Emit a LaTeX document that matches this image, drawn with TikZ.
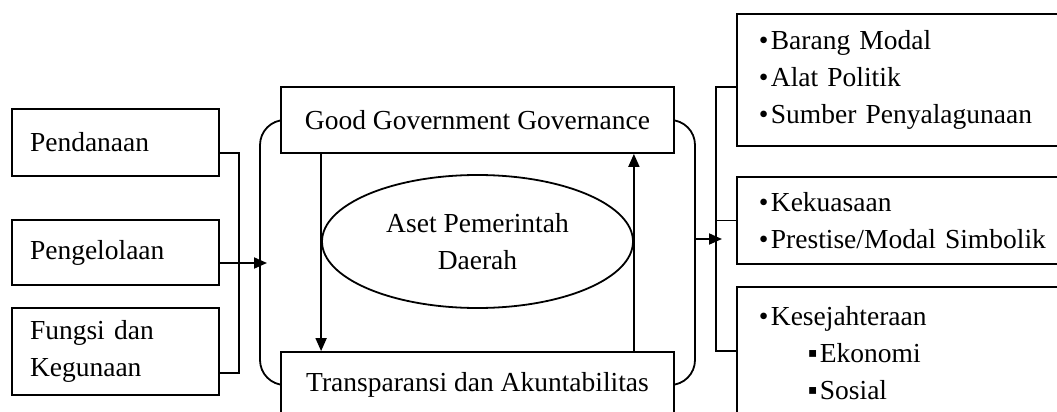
\documentclass[tikz,border=0pt]{standalone}
\usepackage{fontspec}
\setmainfont{Liberation Serif}
\usetikzlibrary{arrows.meta,shapes.geometric}
\newcommand\itembul{\makebox[12pt][l]{•}}
\newcommand\subbul{\hspace*{49pt}\makebox[12pt][l]{▪}}
\begin{document}
\begin{tikzpicture}[x=1pt,y=-1pt,line width=1.8pt,
  every node/.style={font=\fontsize{27.5}{37}\selectfont},
  box/.style={draw,fill=white,rectangle,inner sep=0pt},
  lbox/.style={box,text width=171pt,inner xsep=18pt,align=left},
  rbox/.style={box,anchor=north west,text width=300pt,inner xsep=22pt,align=left},
  mbox/.style={box,minimum width=393pt,minimum height=66pt},
  arr/.style={-{Triangle[length=13pt,width=11pt]}}]
\clip (0,0) rectangle (1057,412);
\fill[white] (0,0) rectangle (1057,412);

% inputs on the left
\node[lbox,minimum height=67pt] (pend) at (115.5,142.5) {Pendanaan};
\node[lbox,minimum height=65pt] (peng) at (115.5,252.5) {Pengelolaan};
\node[lbox,minimum height=87pt] (fung) at (115.5,351.5) {Fungsi dan\\Kegunaan};

% central cycle
\node[draw,rounded corners=25pt,minimum width=435pt,minimum height=265pt,inner sep=0pt] (frame) at (477.5,252.5) {};
\node[mbox] (ggg) at (477.5,120) {Good Government Governance};
\node[mbox] (ta) at (477.5,385) {Transparansi dan Akuntabilitas};
\node[draw,ellipse,minimum width=311pt,minimum height=133pt,inner sep=0pt,align=center] (aset) at (477.5,241.5) {Aset Pemerintah\\Daerah};
\draw[arr] (ggg.south -| aset.west) -- (ta.north -| aset.west);
\draw[arr] (ta.north -| aset.east) -- (ggg.south -| aset.east);

% left connectors
\coordinate (lj) at (239,153);
\coordinate (lb) at (239,373);
\coordinate (lt) at (267,263);
\draw (pend.east |- lj) -- (lj) -- (lb) -- (fung.east |- lb);
\draw[arr] (peng.east |- lt) -- (lt);

% outcomes on the right
\node[rbox,minimum height=132pt] (r1) at (736,13) {\itembul Barang Modal\\\itembul Alat Politik\\\itembul Sumber Penyalagunaan};
\node[rbox,minimum height=87pt] (r2) at (736,176) {\itembul Kekuasaan\\\itembul Prestise/Modal Simbolik};
\node[rbox,minimum height=132pt] (r3) at (736,286) {\itembul Kesejahteraan\\\subbul Ekonomi\\\subbul Sosial};

% right connectors
\coordinate (rj1) at (716,87);
\coordinate (rj3) at (716,351);
\coordinate (rt) at (722,239);
\draw (r1.west |- rj1) -- (rj1) -- (rj3) -- (r3.west |- rj3);
\draw (r2.west) -- (r2.west -| rj1);
\draw[arr] (frame.east |- rt) -- (rt);
\end{tikzpicture}
\end{document}
